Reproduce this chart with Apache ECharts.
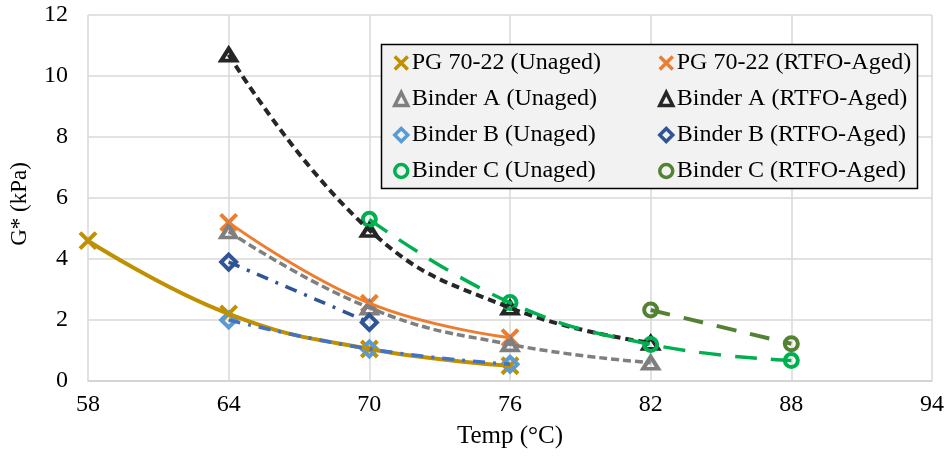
<!DOCTYPE html>
<html>
<head>
<meta charset="utf-8">
<script src="https://cdn.jsdelivr.net/npm/echarts@6/dist/echarts.min.js"></script>
<style>html,body{margin:0;padding:0;background:#fff}#c{width:948px;height:459px}</style>
</head>
<body>
<div id="c"></div>
<script>
// ---- data ----
const xTicks = [58, 64, 70, 76, 82, 88, 94];
const tempsPGU = [58, 64, 70, 76];
const pgUnaged = [4.6, 2.2, 1.05, 0.5];
const tempsPGR = [64, 70, 76];
const pgAged = [5.2, 2.55, 1.42];
const tempsA = [64, 70, 76, 82];
const aUnaged = [4.9, 2.4, 1.2, 0.6];
const aAged = [10.7, 4.95, 2.4, 1.25];
const tempsBU = [64, 70, 76];
const bUnaged = [2.0, 1.05, 0.55];
const tempsBR = [64, 70];
const bAged = [3.9, 1.92];
const tempsCU = [70, 76, 82, 88];
const cUnaged = [5.3, 2.57, 1.2, 0.67];
const tempsCR = [82, 88];
const cAged = [2.33, 1.22];

const names = ['PG 70-22 (Unaged)', 'PG 70-22 (RTFO-Aged)', 'Binder A (Unaged)', 'Binder A (RTFO-Aged)',
  'Binder B (Unaged)', 'Binder B (RTFO-Aged)', 'Binder C (Unaged)', 'Binder C (RTFO-Aged)'];

const FONT = '"Liberation Serif", "Times New Roman", serif';
const XPATH = 'path://M0,0L10,10M10,0L0,10';

function pts(xs, ys) { return xs.map((x, i) => [x, ys[i]]); }

const defs = [
  {name: names[0], xs: tempsPGU, ys: pgUnaged, mc: '#BF9000', lc: '#BF9000', sym: XPATH, size: 16, dash: 'solid', lw: 4},
  {name: names[1], xs: tempsPGR, ys: pgAged, mc: '#ED7D31', lc: '#ED7D31', sym: XPATH, size: 16, dash: 'solid', lw: 3},
  {name: names[2], xs: tempsA, ys: aUnaged, mc: '#7F7F7F', lc: '#7F7F7F', sym: 'triangle', size: [15, 12], dash: [8, 4], lw: 3.5},
  {name: names[3], xs: tempsA, ys: aAged, mc: '#262626', lc: '#262626', sym: 'triangle', size: [15, 12], dash: [8, 5], lw: 4},
  {name: names[4], xs: tempsBU, ys: bUnaged, mc: '#5B9BD5', lc: '#4472C4', sym: 'diamond', size: 15, dash: [12, 8, 3, 8], lw: 3.5},
  {name: names[5], xs: tempsBR, ys: bAged, mc: '#2F5597', lc: '#2F5597', sym: 'diamond', size: 15, dash: [12, 8, 3, 8], lw: 3.5},
  {name: names[6], xs: tempsCU, ys: cUnaged, mc: '#00B050', lc: '#00B050', sym: 'circle', size: 13, dash: [22, 14], lw: 3.5},
  {name: names[7], xs: tempsCR, ys: cAged, mc: '#548235', lc: '#548235', sym: 'circle', size: 13, dash: [20, 14], lw: 4}
];

const series = [];
defs.forEach(d => {
  series.push({
    type: 'scatter', name: d.name, data: pts(d.xs, d.ys),
    symbol: d.sym, symbolSize: d.size, z: 3,
    itemStyle: {color: 'transparent', borderColor: d.mc, borderWidth: 4, opacity: 1},
    emphasis: {disabled: true}
  });
});
defs.forEach(d => {
  series.push({
    type: 'line', name: 'trend ' + d.name, data: pts(d.xs, d.ys),
    smooth: 0.45, showSymbol: false, symbol: 'none', z: 4,
    lineStyle: {color: d.lc, width: d.lw, type: d.dash},
    emphasis: {disabled: true}
  });
});

function legendCfg(left, list) {
  return {
    orient: 'vertical', left: left, top: 51, padding: 0, itemGap: 12,
    itemWidth: 13, itemHeight: 13, z: 10,
    data: list,
    itemStyle: {borderWidth: 3.5},
    textStyle: {fontFamily: FONT, fontSize: 24, color: '#000', lineHeight: 24, padding: [0, 0, 0, -1]}
  };
}

const chart = echarts.init(document.getElementById('c'), null, {renderer: 'canvas'});
chart.setOption({
  animation: false,
  backgroundColor: '#fff',
  grid: {left: 87, right: 16, top: 15, bottom: 78, containLabel: false},
  graphic: [{
    type: 'rect', z: 5, shape: {x: 381.5, y: 44.5, width: 536, height: 144},
    style: {fill: '#f2f2f2', stroke: '#000', lineWidth: 1.5}
  }],
  legend: [legendCfg(393, [names[0], names[2], names[4], names[6]]),
           legendCfg(658, [names[1], names[3], names[5], names[7]])],
  xAxis: {
    type: 'value', min: 58, max: 94,
    name: 'Temp (°C)', nameLocation: 'middle', nameGap: 43,
    nameTextStyle: {fontFamily: FONT, fontSize: 25, color: '#000'},
    axisLine: {show: true, lineStyle: {color: '#d0d0d0', width: 1.5}},
    axisTick: {show: false, customValues: xTicks},
    axisLabel: {customValues: xTicks, fontFamily: FONT, fontSize: 24, color: '#000', margin: 12},
    splitLine: {show: true, lineStyle: {color: '#d9d9d9', width: 1.5}}
  },
  yAxis: {
    type: 'value', min: 0, max: 12, interval: 2,
    name: 'G* (kPa)', nameLocation: 'middle', nameGap: 57,
    nameTextStyle: {fontFamily: FONT, fontSize: 23, color: '#000', padding: [0, 12, 0, 0]},
    axisLine: {show: false}, axisTick: {show: false},
    axisLabel: {fontFamily: FONT, fontSize: 24, color: '#000', margin: 20},
    splitLine: {show: true, lineStyle: {color: '#d9d9d9', width: 1.5}}
  },
  series: series
});
</script>
</body>
</html>
